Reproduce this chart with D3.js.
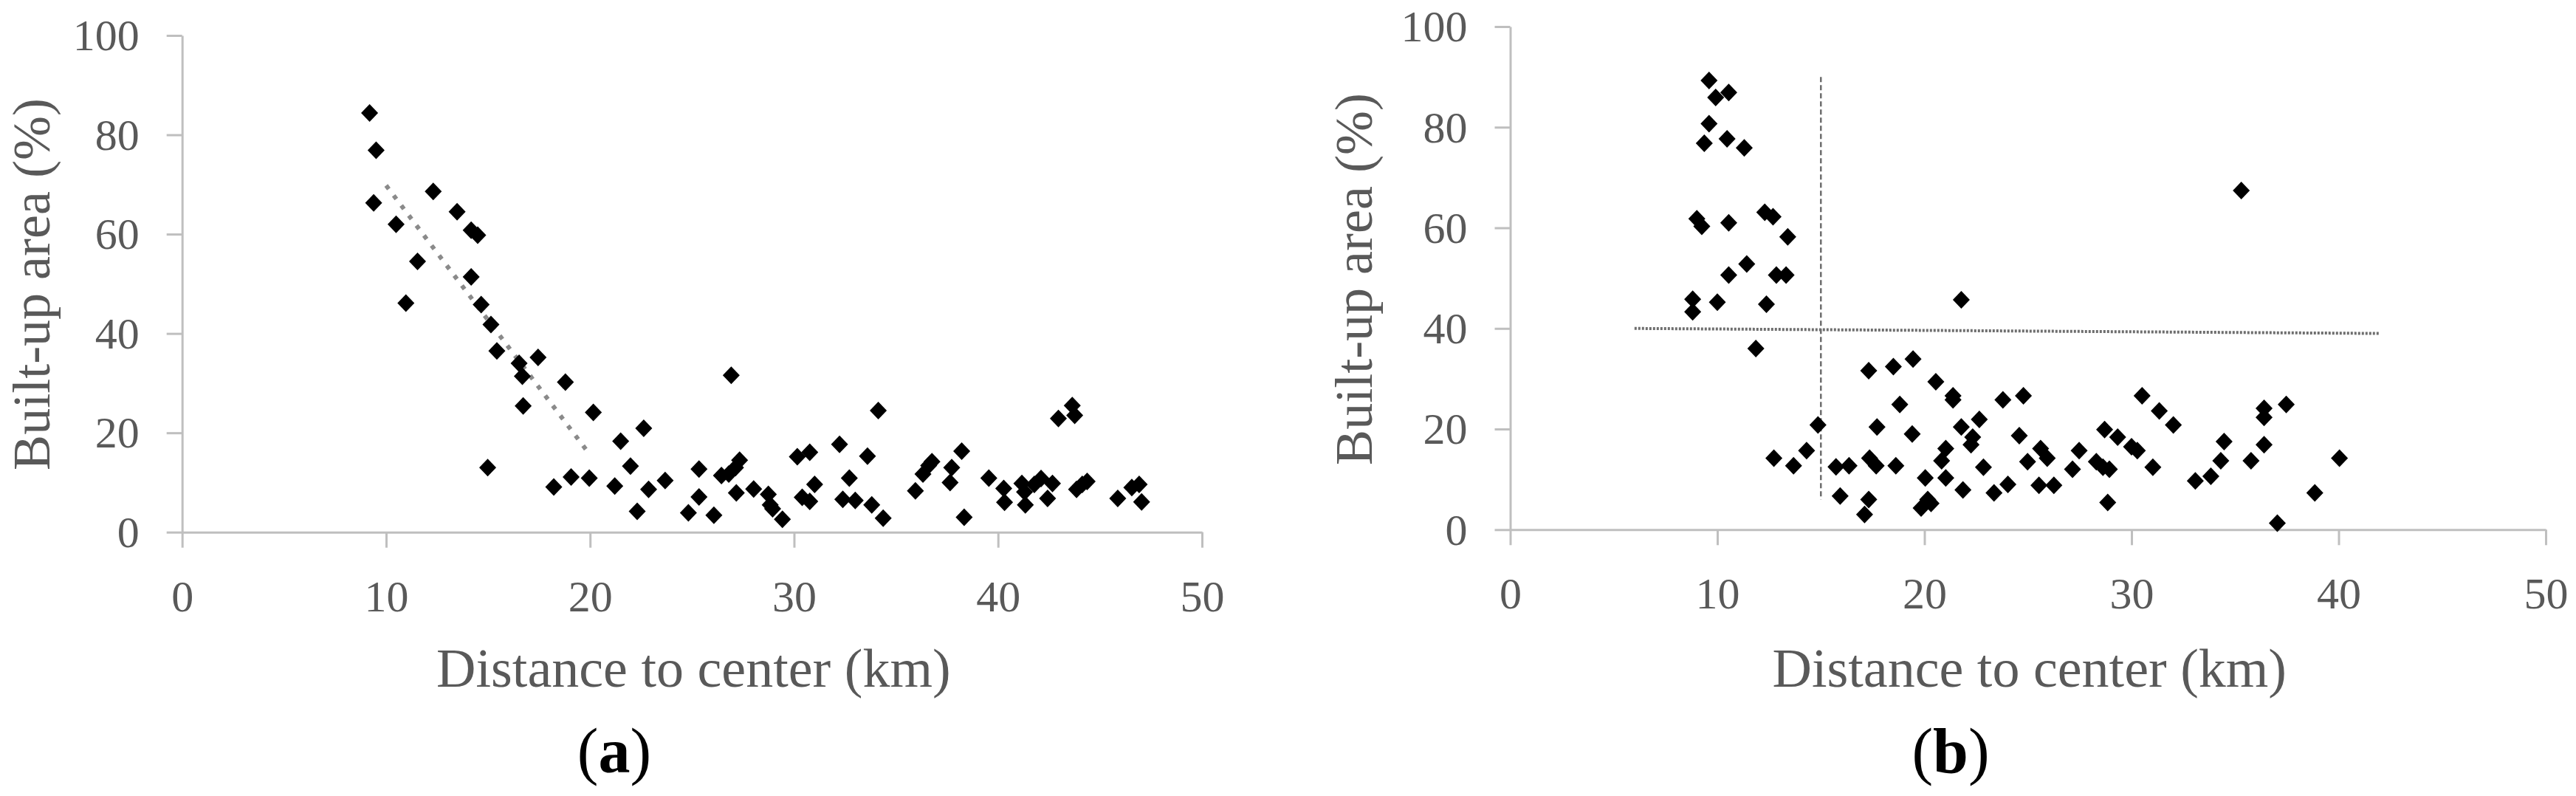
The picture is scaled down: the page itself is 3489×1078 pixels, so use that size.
<!DOCTYPE html>
<html>
<head>
<meta charset="utf-8">
<script src="https://cdn.jsdelivr.net/npm/d3@7"></script>
<style>
  html, body { margin: 0; padding: 0; background: #fff; }
  svg { display: block; }
</style>
</head>
<body>
<svg id="chart" width="3489" height="1078"></svg>
<script>
// ---------------- DATA ----------------
const xTicks = [0, 10, 20, 30, 40, 50];
const yTicks = [0, 20, 40, 60, 80, 100];
const xTitle = "Distance to center (km)";
const yTitle = "Built-up area (%)";
const panelLabels = ["a", "b"];

// Panel (a): distance (km), built-up area (%)
const distA = [9.19, 9.51, 9.39, 10.49, 12.31, 11.54, 10.97, 13.48, 14.17, 14.49,
  14.17, 14.66, 15.14, 15.43, 14.98, 16.52, 16.68, 16.72, 17.45, 18.79,
  18.22, 19.07, 19.96, 20.16, 21.21, 21.50, 21.98, 22.31, 22.63, 22.87,
  23.68, 24.82, 25.34, 25.34, 26.07, 26.44, 26.92, 26.80, 27.13, 27.33,
  27.17, 28.02, 28.74, 28.83, 28.95, 29.43, 30.16, 30.77, 30.40, 30.77,
  31.01, 32.23, 32.39, 32.71, 33.00, 33.60, 33.81, 34.13, 34.37, 35.95,
  36.32, 36.60, 36.76, 37.73, 37.65, 38.22, 38.34, 39.55, 40.28, 40.32,
  41.17, 41.30, 41.34, 41.78, 42.11, 42.43, 42.67, 42.96, 43.64, 43.76,
  43.85, 44.13, 44.37, 45.87, 46.56, 46.92, 47.04];
const builtA = [84.4, 76.9, 66.3, 62.0, 68.6, 54.5, 46.1, 64.5, 60.8, 59.8,
  51.4, 45.8, 41.8, 36.5, 13.0, 34.0, 31.4, 25.4, 35.2, 30.2,
  9.1, 11.1, 10.9, 24.1, 9.3, 18.3, 13.3, 4.2, 20.9, 8.6,
  10.4, 3.9, 12.7, 7.1, 3.4, 11.4, 31.6, 11.7, 13.0, 14.5,
  7.9, 8.7, 7.6, 5.5, 4.7, 2.6, 15.2, 16.1, 7.0, 6.2,
  9.6, 17.7, 6.6, 10.9, 6.4, 15.3, 5.5, 24.5, 2.8, 8.3,
  11.7, 13.4, 14.2, 13.0, 10.0, 16.3, 3.0, 10.9, 8.8, 6.0,
  9.8, 8.1, 5.5, 9.6, 10.8, 6.8, 9.8, 22.9, 25.5, 23.5,
  8.6, 9.6, 10.2, 6.8, 9.0, 9.6, 6.1];
// Panel (a) dotted trend line end points
const trendA_x = [10, 19.9];
const trendA_y = [69.8, 16.1];

// Panel (b): distance (km), built-up area (%)
const distB = [9.60, 9.92, 10.55, 9.60, 9.37, 10.47, 11.30, 9.01, 9.25, 10.55,
  12.29, 12.69, 13.40, 11.42, 10.55, 12.85, 13.32, 8.81, 8.81, 10.00,
  12.37, 11.86, 21.78, 35.30, 14.86, 14.31, 12.73, 13.68, 15.73, 16.36,
  15.93, 17.31, 17.35, 17.71, 17.67, 17.31, 17.11, 18.50, 18.81, 19.45,
  19.41, 18.62, 20.55, 20.04, 19.84, 20.16, 20.32, 21.38, 21.38, 21.03,
  20.83, 21.03, 21.78, 21.86, 22.33, 22.25, 22.65, 22.85, 23.36, 23.79,
  24.03, 24.78, 24.58, 24.98, 25.61, 25.93, 25.53, 26.25, 27.15, 27.47,
  28.30, 28.70, 28.62, 28.93, 28.85, 29.33, 30.00, 30.28, 30.51, 31.03,
  31.34, 32.02, 33.08, 33.83, 34.31, 34.47, 35.77, 36.40, 36.40, 36.40,
  37.47, 37.04, 38.85, 40.04];
const builtB = [89.3, 85.9, 86.9, 80.7, 76.8, 77.7, 75.9, 61.8, 60.3, 61.0,
  63.1, 62.2, 58.2, 52.8, 50.6, 50.6, 50.6, 45.8, 43.3, 45.2,
  44.8, 36.0, 45.7, 67.4, 20.8, 15.7, 14.2, 12.7, 12.5, 12.7,
  6.7, 31.6, 14.2, 20.4, 12.7, 6.0, 3.0, 32.4, 24.9, 33.9,
  19.0, 12.7, 29.4, 10.3, 4.3, 6.0, 5.2, 26.6, 25.8, 16.1,
  13.7, 10.3, 20.4, 7.9, 18.4, 16.9, 21.9, 12.4, 7.3, 25.8,
  9.0, 26.6, 18.7, 13.5, 16.1, 14.2, 8.8, 8.8, 12.0, 15.7,
  13.5, 19.9, 12.4, 12.0, 5.4, 18.4, 16.5, 15.7, 26.6, 12.4,
  23.6, 20.8, 9.7, 10.6, 13.7, 17.5, 13.7, 24.1, 22.3, 16.9,
  24.9, 1.3, 7.3, 14.2];
// Panel (b) dotted threshold lines
const vLineB_x = [15, 15];
const vLineB_y = [90, 6];
const hLineB_x = [6, 42];
const hLineB_y = [40, 39];

// ---------------- DRAWING ----------------
const svg = d3.select("#chart");
const FONT = "'Liberation Serif', 'Times New Roman', serif";
const TXT = "#595959";
const AXIS = "#bfbfbf";

// rotated-square (diamond) symbol
const diamond = {
  draw(ctx, size) {
    const r = Math.sqrt(size / 2);
    ctx.moveTo(0, -r);
    ctx.lineTo(r * 0.96, 0);
    ctx.lineTo(0, r);
    ctx.lineTo(-r * 0.96, 0);
    ctx.closePath();
  }
};
const sym = d3.symbol().type(diamond).size(2 * 12 * 12);

function panel(cfg) {
  const x = d3.scaleLinear().domain([0, 50]).range(cfg.xr);
  const y = d3.scaleLinear().domain([0, 100]).range(cfg.yr);
  const g = svg.append("g");

  // y axis
  const ya = g.append("g")
    .attr("transform", `translate(${x(0)},0)`)
    .call(d3.axisLeft(y).tickValues(yTicks).tickSize(21).tickSizeOuter(0).tickPadding(37));
  // x axis
  const xa = g.append("g")
    .attr("transform", `translate(0,${y(0)})`)
    .call(d3.axisBottom(x).tickValues(xTicks).tickSize(21).tickSizeOuter(0));

  [ya, xa].forEach(a => {
    a.selectAll("path.domain").attr("stroke", AXIS).attr("stroke-width", 3);
    a.selectAll(".tick line").attr("stroke", AXIS).attr("stroke-width", 3);
    a.selectAll(".tick text")
      .attr("fill", TXT)
      .style("font-family", FONT)
      .style("font-size", "60px");
  });
  ya.selectAll(".tick text").attr("dy", "0.33em");
  xa.selectAll(".tick text").attr("dy", null).attr("y", 107);

  // reference lines
  cfg.lines.forEach(l => {
    g.append("line")
      .attr("x1", x(l.xs[0])).attr("y1", y(l.ys[0]))
      .attr("x2", x(l.xs[1])).attr("y2", y(l.ys[1]))
      .attr("stroke", l.color)
      .attr("stroke-width", l.width)
      .attr("stroke-dasharray", l.dash);
  });

  // points
  g.append("g").selectAll("path")
    .data(cfg.xs.map((d, i) => [d, cfg.ys[i]]))
    .join("path")
    .attr("d", sym)
    .attr("transform", d => `translate(${x(d[0])},${y(d[1])})`)
    .attr("fill", "#000");

  // axis titles
  g.append("text")
    .attr("x", (x(0) + x(50)) / 2 + 2)
    .attr("y", 929.5)
    .attr("text-anchor", "middle")
    .attr("fill", TXT)
    .style("font-family", FONT)
    .style("font-size", "74px")
    .text(xTitle);

  g.append("text")
    .attr("transform", `translate(${cfg.yTitleX},${cfg.yTitleY}) rotate(-90)`)
    .attr("text-anchor", "middle")
    .attr("fill", TXT)
    .style("font-family", FONT)
    .style("font-size", "72px")
    .text(yTitle);

  // panel label
  const lab = g.append("text")
    .attr("x", cfg.labelX)
    .attr("y", 1046)
    .attr("text-anchor", "middle")
    .attr("fill", "#000")
    .style("font-family", FONT)
    .style("font-size", "86px");
  lab.append("tspan").text("(");
  lab.append("tspan").attr("font-weight", "bold").text(cfg.label);
  lab.append("tspan").text(")");
}

panel({
  xr: [246.7, 1628], yr: [720.7, 48],
  xs: distA, ys: builtA,
  lines: [{ xs: trendA_x, ys: trendA_y, color: "#8a8a8a", width: 6, dash: "6 11" }],
  yTitleX: 67, yTitleY: 385,
  labelX: 832, label: panelLabels[0]
});

panel({
  xr: [2045.5, 3448], yr: [717.3, 36],
  xs: distB, ys: builtB,
  lines: [
    { xs: vLineB_x, ys: vLineB_y, color: "#6e6e6e", width: 2.5, dash: "7 4" },
    { xs: hLineB_x, ys: hLineB_y, color: "#6e6e6e", width: 4, dash: "3 2" }
  ],
  yTitleX: 1858, yTitleY: 378,
  labelX: 2642, label: panelLabels[1]
});
</script>
</body>
</html>
